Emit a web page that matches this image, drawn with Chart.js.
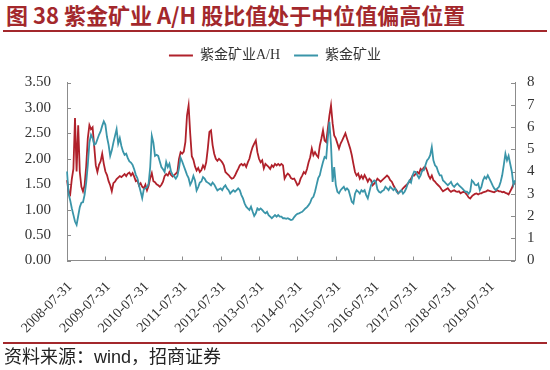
<!DOCTYPE html>
<html lang="zh-CN">
<head>
<meta charset="utf-8">
<title>紫金矿业 A/H 股比值</title>
<script src="https://cdn.jsdelivr.net/npm/chart.js@4.4.1/dist/chart.umd.min.js"></script>
<style>
  body { margin: 0; background: #fff; }
  #box { position: relative; width: 550px; height: 370px; overflow: hidden; }
  #title { position: absolute; left: 6px; top: 3px; font: bold 22px/22px "Noto Sans CJK SC", sans-serif; color: #a3282c; white-space: nowrap; }
  #titleRule { position: absolute; left: 3px; top: 30px; width: 544px; border-top: 2px solid #a3282c; }
  #sourceRule { position: absolute; left: 3px; top: 342px; width: 544px; border-top: 2px solid #a3282c; }
  #source { position: absolute; left: 4px; top: 348px; font: 18px/18px "Liberation Sans", "Noto Sans CJK SC", sans-serif; color: #222; white-space: nowrap; }
  #chart { position: absolute; left: 0; top: 0; }
</style>
</head>
<body>
<div id="box">
  <div id="title">图 38 紫金矿业 A/H 股比值处于中位值偏高位置</div>
  <div id="titleRule"></div>
  <canvas id="chart" width="550" height="370"></canvas>
  <div id="sourceRule"></div>
  <div id="source">资料来源：wind，招商证券</div>
</div>
<script>
// x 轴刻度标签
var tickLabels = ['2008-07-31', '2009-07-31', '2010-07-31', '2011-07-31', '2012-07-31', '2013-07-31',
                  '2014-07-31', '2015-07-31', '2016-07-31', '2017-07-31', '2018-07-31', '2019-07-31'];

// 半月一个点：2008-07-31 ... 2020-03-31
var dates = [];
for (var k = 0; k <= 140; k++) {
    var y = 2008 + Math.floor((6 + k) / 12), m = (6 + k) % 12;
    var mm = (m + 1 < 10 ? '0' : '') + (m + 1);
    if (k > 0) dates.push(y + '-' + mm + '-15');
    dates.push(y + '-' + mm + '-' + new Date(y, m + 1, 0).getDate());
}

// 紫金矿业A/H（左轴）
var ratioAH = [
    1.58, 1.35, 1.30, 1.60, 1.80, 2.80, 1.75, 2.66, 1.74, 1.45,
    1.36, 1.48, 1.85, 2.40, 2.66, 2.58, 2.62, 2.25, 1.87, 1.74,
    1.88, 1.95, 2.10, 1.90, 1.75, 1.68, 1.56, 1.48, 1.36, 1.52,
    1.55, 1.60, 1.63, 1.66, 1.64, 1.67, 1.70, 1.66, 1.71, 1.73,
    1.67, 1.72, 1.65, 1.56, 1.58, 1.48, 1.52, 1.45, 1.42, 1.49,
    1.38, 1.47, 1.62, 1.72, 1.56, 1.54, 1.50, 1.48, 1.45, 1.49,
    1.55, 1.66, 1.70, 1.67, 1.74, 1.68, 1.65, 1.68, 1.71, 1.74,
    2.00, 2.13, 2.10, 2.14, 2.33, 2.85, 3.05, 2.50, 2.05, 1.98,
    1.85, 1.77, 1.82, 1.74, 1.78, 1.87, 1.81, 1.93, 2.20, 2.53,
    2.56, 2.27, 2.10, 2.00, 1.96, 2.00, 1.97, 1.93, 1.87, 1.74,
    1.71, 1.68, 1.64, 1.61, 1.62, 1.67, 1.74, 1.80, 1.87, 1.90,
    1.87, 1.90, 1.84, 1.93, 2.00, 2.13, 2.23, 2.30, 2.36, 2.13,
    2.00, 1.93, 1.97, 1.81, 1.90, 1.87, 1.84, 1.80, 1.87, 1.84,
    1.90, 1.87, 1.90, 1.87, 1.90, 1.87, 1.61, 1.67, 1.71, 1.68,
    1.62, 1.60, 1.61, 1.55, 1.48, 1.51, 1.61, 1.67, 1.74, 1.71,
    1.80, 1.93, 2.03, 2.20, 2.07, 2.13, 2.07, 2.03, 2.26, 2.40,
    2.56, 2.36, 2.33, 2.59, 2.85, 3.05, 2.70, 2.46, 2.40, 2.30,
    2.20, 2.30, 2.36, 2.43, 2.50, 2.40, 2.30, 2.20, 2.07, 1.90,
    1.74, 1.67, 1.71, 1.61, 1.67, 1.61, 1.68, 1.62, 1.55, 1.61,
    1.58, 1.48, 1.51, 1.55, 1.61, 1.58, 1.55, 1.58, 1.61, 1.64,
    1.67, 1.64, 1.58, 1.55, 1.48, 1.42, 1.38, 1.32, 1.35, 1.38,
    1.42, 1.45, 1.48, 1.51, 1.55, 1.61, 1.67, 1.67, 1.71, 1.74,
    1.71, 1.80, 1.77, 1.83, 1.84, 1.77, 1.67, 1.61, 1.67, 1.58,
    1.55, 1.51, 1.48, 1.45, 1.40, 1.36, 1.38, 1.40, 1.42, 1.38,
    1.35, 1.37, 1.38, 1.36, 1.35, 1.36, 1.32, 1.34, 1.35, 1.33,
    1.29, 1.24, 1.22, 1.26, 1.29, 1.31, 1.32, 1.30, 1.32, 1.32,
    1.34, 1.35, 1.36, 1.38, 1.37, 1.36, 1.35, 1.34, 1.36, 1.38,
    1.36, 1.36, 1.34, 1.35, 1.33, 1.32, 1.30, 1.36, 1.42, 1.50,
    1.52
];

// 紫金矿业股价（右轴）
var zijinPrice = [
    4.00, 3.00, 2.70, 2.35, 2.05, 1.75, 1.60, 2.00, 2.40, 2.60,
    2.62, 2.95, 3.50, 4.30, 5.30, 5.65, 5.50, 5.20, 5.25, 5.45,
    5.65, 5.80, 6.05, 6.25, 6.10, 5.55, 5.20, 4.70, 4.95, 5.30,
    5.60, 5.90, 5.25, 5.50, 5.15, 4.90, 4.75, 4.80, 4.60, 4.45,
    4.40, 4.30, 4.10, 3.85, 3.70, 3.38, 3.10, 2.80, 3.20, 3.25,
    3.30, 3.45, 4.20, 5.60, 5.30, 4.70, 4.75, 4.70, 4.45, 4.20,
    4.10, 3.98, 4.43, 4.20, 4.35, 4.00, 3.85, 3.78, 3.68, 3.80,
    4.15, 4.62, 4.45, 4.25, 4.05, 3.85, 3.70, 3.40, 3.55, 3.80,
    3.60, 3.15, 3.30, 3.50, 3.55, 3.75, 3.68, 3.55, 3.50, 3.45,
    3.38, 3.50, 3.42, 3.28, 3.15, 3.20, 3.24, 3.16, 3.30, 3.38,
    3.24, 3.16, 3.01, 3.09, 3.16, 3.09, 3.16, 3.24, 3.16, 2.94,
    2.79, 2.57, 2.42, 2.34, 2.27, 2.42, 2.20, 2.00, 2.12, 2.34,
    2.27, 2.34, 2.27, 2.19, 2.12, 2.19, 2.04, 1.97, 1.90, 1.97,
    2.04, 1.97, 2.04, 1.97, 1.97, 1.90, 1.90, 1.87, 1.90, 1.86,
    1.82, 1.84, 1.95, 2.04, 2.10, 2.12, 2.16, 2.19, 2.26, 2.34,
    2.40, 2.49, 2.60, 2.79, 2.86, 3.09, 3.40, 3.70, 3.83, 4.15,
    4.43, 4.65, 4.60, 5.50, 6.23, 5.20, 3.53, 4.20, 3.40, 3.09,
    3.02, 3.16, 3.24, 3.31, 3.16, 3.24, 3.16, 2.90, 2.64, 2.57,
    3.00, 3.16, 3.10, 3.01, 3.16, 3.09, 3.16, 2.94, 2.79, 3.09,
    3.38, 3.53, 3.60, 3.55, 3.20, 3.09, 3.05, 3.12, 3.16, 3.31,
    3.24, 3.16, 3.31, 3.24, 3.16, 3.24, 3.09, 3.01, 3.09, 3.16,
    3.01, 3.09, 3.24, 3.46, 3.60, 3.50, 3.83, 4.00, 3.98, 3.83,
    3.70, 3.83, 4.05, 4.05, 4.28, 4.50, 4.58, 4.73, 5.10, 4.50,
    4.28, 4.20, 3.98, 3.83, 3.83, 3.60, 3.53, 3.45, 3.38, 3.45,
    3.53, 3.38, 3.31, 3.40, 3.46, 3.38, 3.31, 3.24, 3.16, 3.09,
    3.09, 3.00, 3.10, 3.60, 3.53, 3.40, 3.38, 3.46, 3.16, 3.31,
    3.60, 3.76, 3.68, 3.83, 3.68, 3.53, 3.38, 3.24, 3.16, 3.24,
    3.31, 3.53, 3.83, 4.30, 4.80, 4.50, 4.70, 4.35, 4.00, 3.40,
    3.60
];

var red = '#b0212b';
var teal = '#3a95a9';
var axisColor = '#8c8c8c';
var serif = "'Liberation Serif', 'Noto Sans CJK SC', serif";

// 图例和绘图区之间留白
var legendGap = {
    id: 'legendGap',
    beforeInit: function(chart) {
        var fitLegend = chart.legend.fit;
        chart.legend.fit = function() {
            fitLegend.bind(chart.legend)();
            this.height += 10;
        };
    }
};

// 刻度线朝内
var innerTicks = {
    id: 'innerTicks',
    beforeDatasetsDraw: function(chart) {
        var ctx = chart.ctx, a = chart.chartArea;
        var sx = chart.scales.x, sl = chart.scales.y, sr = chart.scales.y1;
        ctx.save();
        ctx.strokeStyle = axisColor;
        ctx.lineWidth = 1;
        ctx.beginPath();
        sx.ticks.forEach(function(t, i) {
            if (t.label === null || t.label === undefined) return;
            var px = Math.round(sx.getPixelForTick(i)) + 0.5;
            ctx.moveTo(px, a.bottom);
            ctx.lineTo(px, a.bottom - 4);
        });
        sl.ticks.forEach(function(t, i) {
            var py = Math.round(sl.getPixelForTick(i)) + 0.5;
            ctx.moveTo(a.left, py);
            ctx.lineTo(a.left + 4, py);
        });
        sr.ticks.forEach(function(t, i) {
            var py = Math.round(sr.getPixelForTick(i)) + 0.5;
            ctx.moveTo(a.right, py);
            ctx.lineTo(a.right - 4, py);
        });
        ctx.stroke();
        ctx.restore();
    }
};

var ctx = document.getElementById('chart').getContext('2d');
var ahChart = new Chart(ctx, {
    type: 'line',
    data: {
        labels: dates,
        datasets: [{
            label: '紫金矿业A/H',
            data: ratioAH,
            yAxisID: 'y',
            borderColor: red,
            backgroundColor: red,
            borderWidth: 1.8,
            pointRadius: 0,
            order: 2
        }, {
            label: '紫金矿业',
            data: zijinPrice,
            yAxisID: 'y1',
            borderColor: teal,
            backgroundColor: teal,
            borderWidth: 1.8,
            pointRadius: 0,
            order: 1
        }]
    },
    options: {
        responsive: false,
        animation: false,
        layout: {
            padding: { top: 34.5, left: 0, right: 0, bottom: 0 }
        },
        plugins: {
            tooltip: { enabled: false },
            legend: {
                position: 'top',
                labels: {
                    boxWidth: 24,
                    boxHeight: 2,
                    padding: 14,
                    color: '#333',
                    font: { family: serif, size: 14 },
                    sort: function(a, b) { return a.datasetIndex - b.datasetIndex; },
                    generateLabels: function(chart) {
                        var items = Chart.defaults.plugins.legend.labels.generateLabels(chart);
                        items.forEach(function(it) { it.lineWidth = 0; });
                        return items;
                    }
                }
            }
        },
        scales: {
            x: {
                type: 'category',
                offset: false,
                grid: { display: false, drawTicks: false },
                border: { display: true, color: axisColor, width: 1 },
                ticks: {
                    autoSkip: false,
                    minRotation: 45,
                    maxRotation: 45,
                    padding: 18,
                    labelOffset: 3,
                    color: '#333',
                    font: { family: serif, size: 14 },
                    callback: function(value) {
                        var label = this.getLabelForValue(value);
                        return tickLabels.indexOf(label) >= 0 ? label : null;
                    }
                },
                afterFit: function(scale) { scale.height = 109.5; }
            },
            y: {
                position: 'left',
                min: 0,
                max: 3.5,
                grid: { display: false, drawTicks: false },
                border: { display: true, color: axisColor, width: 1 },
                ticks: {
                    stepSize: 0.5,
                    padding: 16,
                    color: '#333',
                    font: { family: serif, size: 15 },
                    callback: function(v) { return v.toFixed(2); }
                },
                afterFit: function(scale) { scale.width = 67; }
            },
            y1: {
                position: 'right',
                min: 0,
                max: 8,
                grid: { display: false, drawTicks: false },
                border: { display: true, color: axisColor, width: 1 },
                ticks: {
                    stepSize: 1,
                    padding: 12,
                    color: '#333',
                    font: { family: serif, size: 15 }
                },
                afterFit: function(scale) { scale.width = 35; }
            }
        }
    },
    plugins: [legendGap, innerTicks]
});
</script>
</body>
</html>
